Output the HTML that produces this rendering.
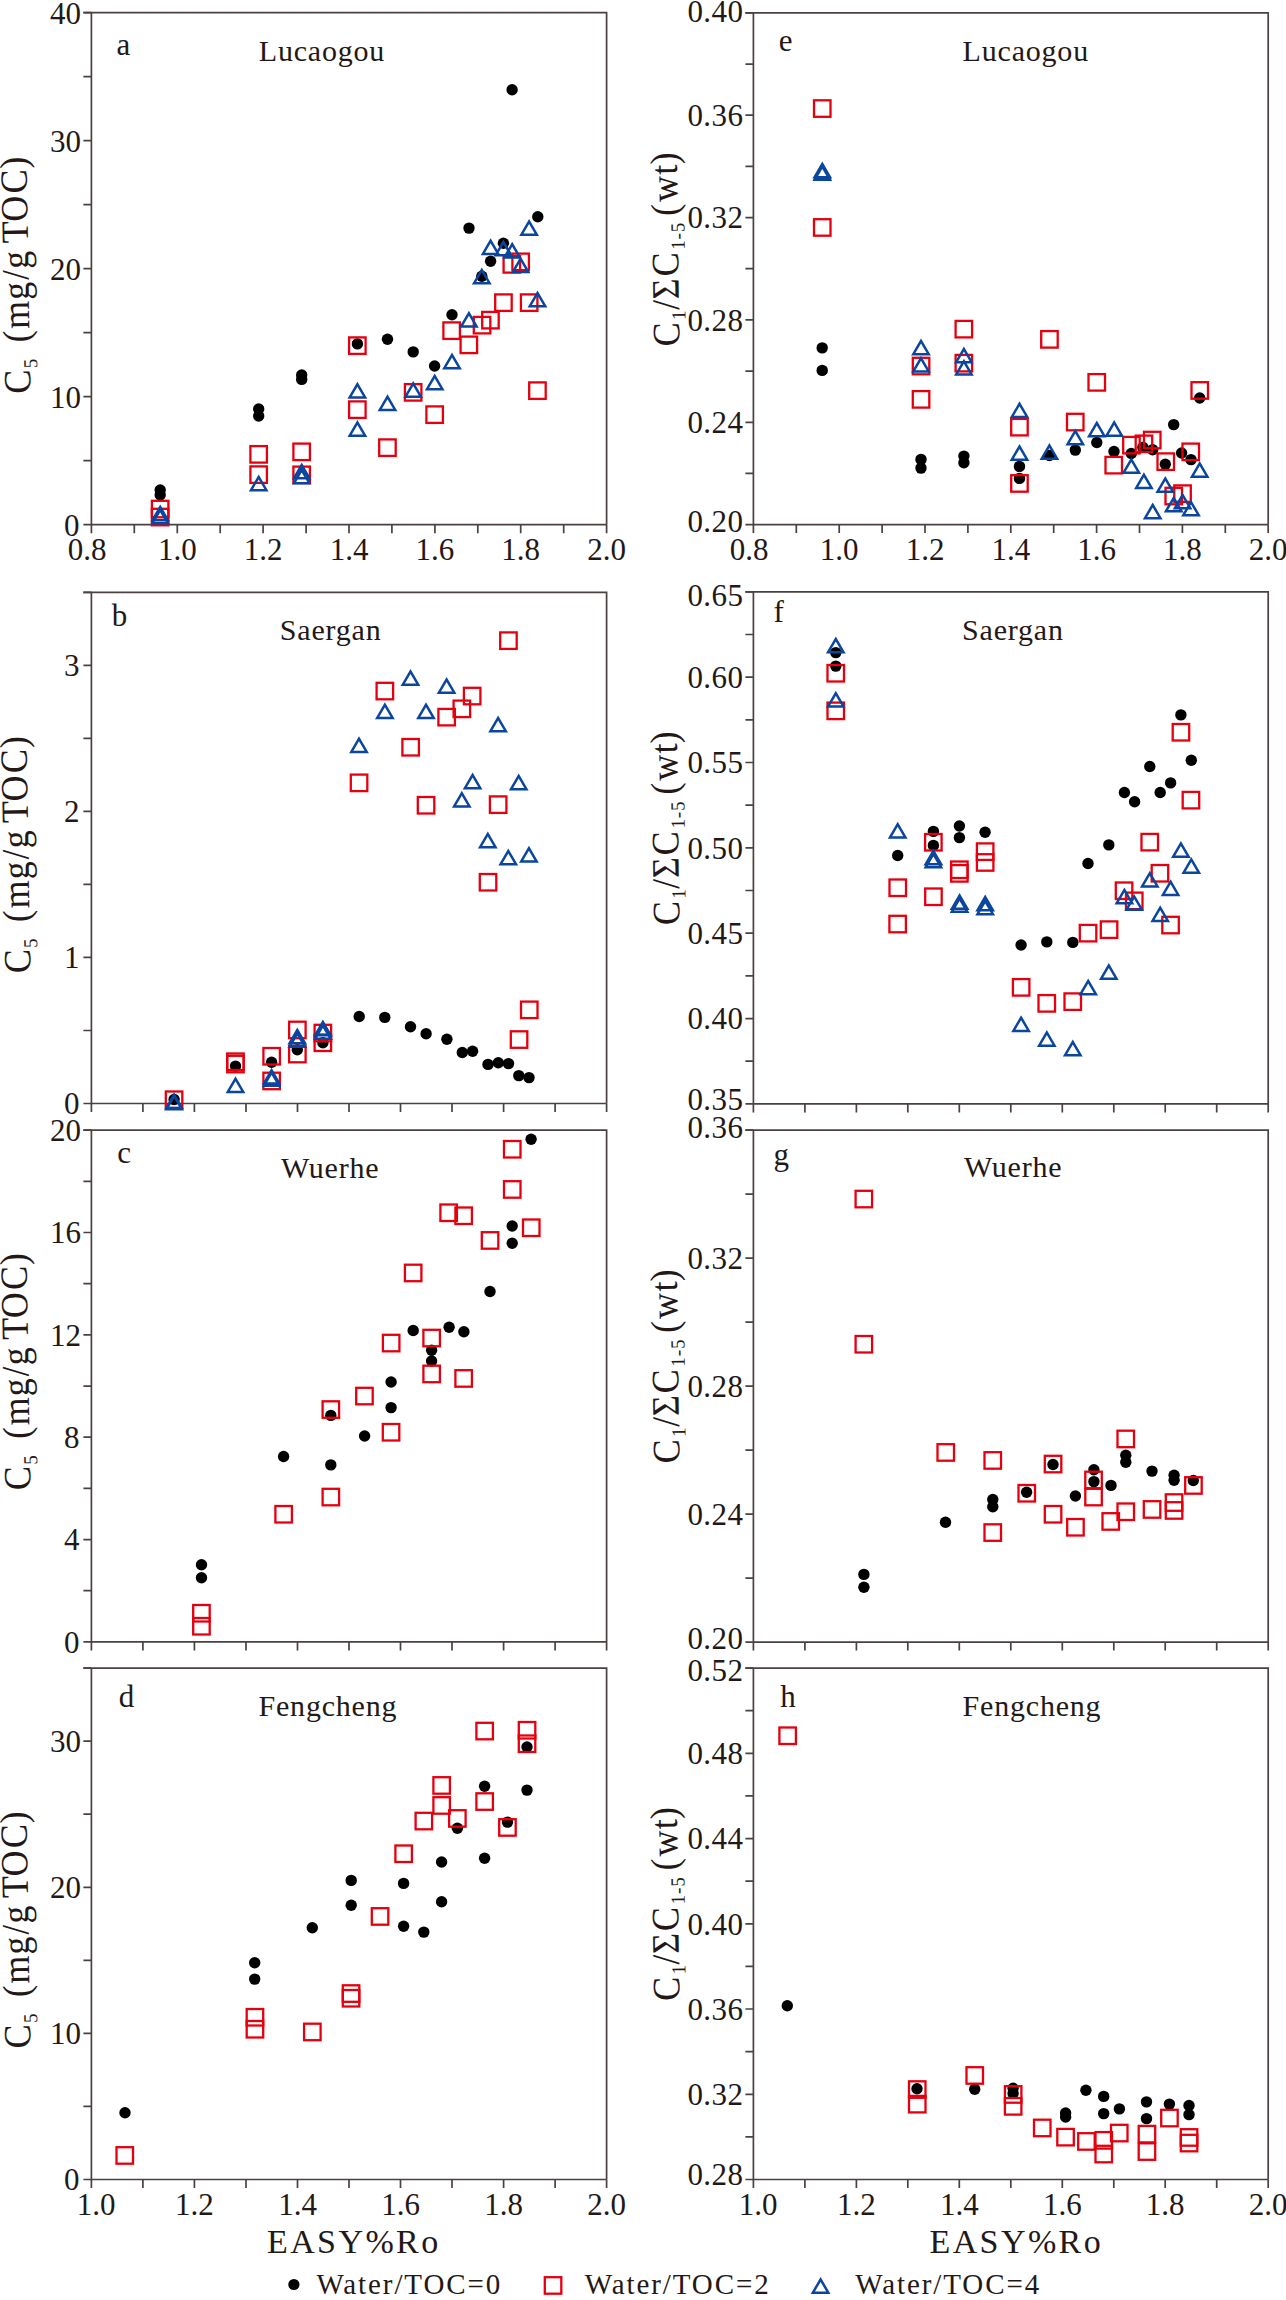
<!DOCTYPE html>
<html><head><meta charset="utf-8"><style>html,body{margin:0;padding:0;background:#fff}svg{display:block}</style></head>
<body><svg width="1286" height="2300" viewBox="0 0 1286 2300" font-family="'Liberation Serif', serif" fill="#231815">
<path d="M83.4 12.6H606.6V524.7M91.4 12.6V524.7H606.6" fill="none" stroke="#4a4240" stroke-width="1.7"/>
<path d="M83.4 524.7H91.4M83.4 460.7H91.4M83.4 396.7H91.4M83.4 332.7H91.4M83.4 268.7H91.4M83.4 204.6H91.4M83.4 140.6H91.4M83.4 76.6H91.4M83.4 12.6H91.4" stroke="#4a4240" stroke-width="1.7"/>
<text x="79.6" y="535.6" text-anchor="end" font-size="31">0</text>
<text x="80.9" y="407.5" text-anchor="end" font-size="31">10</text>
<text x="80.9" y="279.5" text-anchor="end" font-size="31">20</text>
<text x="80.9" y="151.5" text-anchor="end" font-size="31">30</text>
<text x="80.9" y="23.5" text-anchor="end" font-size="31">40</text>
<path d="M91.4 524.7V533.2M134.3 524.7V533.2M177.3 524.7V533.2M220.2 524.7V533.2M263.1 524.7V533.2M306.1 524.7V533.2M349.0 524.7V533.2M391.9 524.7V533.2M434.9 524.7V533.2M477.8 524.7V533.2M520.7 524.7V533.2M563.7 524.7V533.2M606.6 524.7V533.2" stroke="#4a4240" stroke-width="1.7"/>
<text x="87.2" y="559.7" text-anchor="middle" font-size="31">0.8</text>
<text x="177.3" y="559.7" text-anchor="middle" font-size="31">1.0</text>
<text x="263.1" y="559.7" text-anchor="middle" font-size="31">1.2</text>
<text x="349.0" y="559.7" text-anchor="middle" font-size="31">1.4</text>
<text x="434.9" y="559.7" text-anchor="middle" font-size="31">1.6</text>
<text x="520.7" y="559.7" text-anchor="middle" font-size="31">1.8</text>
<text x="606.6" y="559.7" text-anchor="middle" font-size="31">2.0</text>
<path d="M83.4 592.3H606.6V1103.5M91.4 592.3V1103.5H606.6" fill="none" stroke="#4a4240" stroke-width="1.7"/>
<path d="M83.4 1103.5H91.4M83.4 1030.5H91.4M83.4 957.4H91.4M83.4 884.4H91.4M83.4 811.4H91.4M83.4 738.4H91.4M83.4 665.3H91.4M83.4 592.3H91.4" stroke="#4a4240" stroke-width="1.7"/>
<text x="79.6" y="1114.3" text-anchor="end" font-size="31">0</text>
<text x="79.6" y="968.3" text-anchor="end" font-size="31">1</text>
<text x="79.6" y="822.2" text-anchor="end" font-size="31">2</text>
<text x="79.6" y="676.2" text-anchor="end" font-size="31">3</text>
<path d="M91.4 1103.5V1112.0M142.9 1103.5V1112.0M194.4 1103.5V1112.0M246.0 1103.5V1112.0M297.5 1103.5V1112.0M349.0 1103.5V1112.0M400.5 1103.5V1112.0M452.0 1103.5V1112.0M503.6 1103.5V1112.0M555.1 1103.5V1112.0M606.6 1103.5V1112.0" stroke="#4a4240" stroke-width="1.7"/>
<path d="M83.4 1130.2H606.6V1641.9M91.4 1130.2V1641.9H606.6" fill="none" stroke="#4a4240" stroke-width="1.7"/>
<path d="M83.4 1641.9H91.4M83.4 1590.7H91.4M83.4 1539.6H91.4M83.4 1488.4H91.4M83.4 1437.2H91.4M83.4 1386.1H91.4M83.4 1334.9H91.4M83.4 1283.7H91.4M83.4 1232.5H91.4M83.4 1181.4H91.4M83.4 1130.2H91.4" stroke="#4a4240" stroke-width="1.7"/>
<text x="79.6" y="1652.8" text-anchor="end" font-size="31">0</text>
<text x="79.6" y="1550.4" text-anchor="end" font-size="31">4</text>
<text x="79.6" y="1448.1" text-anchor="end" font-size="31">8</text>
<text x="80.9" y="1345.7" text-anchor="end" font-size="31">12</text>
<text x="80.9" y="1243.4" text-anchor="end" font-size="31">16</text>
<text x="80.9" y="1141.0" text-anchor="end" font-size="31">20</text>
<path d="M91.4 1641.9V1650.4M142.9 1641.9V1650.4M194.4 1641.9V1650.4M246.0 1641.9V1650.4M297.5 1641.9V1650.4M349.0 1641.9V1650.4M400.5 1641.9V1650.4M452.0 1641.9V1650.4M503.6 1641.9V1650.4M555.1 1641.9V1650.4M606.6 1641.9V1650.4" stroke="#4a4240" stroke-width="1.7"/>
<path d="M83.4 1668.1H606.6V2179.5M91.4 1668.1V2179.5H606.6" fill="none" stroke="#4a4240" stroke-width="1.7"/>
<path d="M83.4 2179.5H91.4M83.4 2106.4H91.4M83.4 2033.4H91.4M83.4 1960.3H91.4M83.4 1887.3H91.4M83.4 1814.2H91.4M83.4 1741.2H91.4M83.4 1668.1H91.4" stroke="#4a4240" stroke-width="1.7"/>
<text x="79.6" y="2190.3" text-anchor="end" font-size="31">0</text>
<text x="80.9" y="2044.2" text-anchor="end" font-size="31">10</text>
<text x="80.9" y="1898.1" text-anchor="end" font-size="31">20</text>
<text x="80.9" y="1752.0" text-anchor="end" font-size="31">30</text>
<path d="M91.4 2179.5V2188.0M142.9 2179.5V2188.0M194.4 2179.5V2188.0M246.0 2179.5V2188.0M297.5 2179.5V2188.0M349.0 2179.5V2188.0M400.5 2179.5V2188.0M452.0 2179.5V2188.0M503.6 2179.5V2188.0M555.1 2179.5V2188.0M606.6 2179.5V2188.0" stroke="#4a4240" stroke-width="1.7"/>
<text x="96.1" y="2214.5" text-anchor="middle" font-size="31">1.0</text>
<text x="194.4" y="2214.5" text-anchor="middle" font-size="31">1.2</text>
<text x="297.5" y="2214.5" text-anchor="middle" font-size="31">1.4</text>
<text x="400.5" y="2214.5" text-anchor="middle" font-size="31">1.6</text>
<text x="503.6" y="2214.5" text-anchor="middle" font-size="31">1.8</text>
<text x="606.6" y="2214.5" text-anchor="middle" font-size="31">2.0</text>
<path d="M745.4 12.9H1268.2V524.6M753.4 12.9V524.6H1268.2" fill="none" stroke="#4a4240" stroke-width="1.7"/>
<path d="M745.4 524.6H753.4M745.4 473.4H753.4M745.4 422.3H753.4M745.4 371.1H753.4M745.4 319.9H753.4M745.4 268.7H753.4M745.4 217.6H753.4M745.4 166.4H753.4M745.4 115.2H753.4M745.4 64.1H753.4M745.4 12.9H753.4" stroke="#4a4240" stroke-width="1.7"/>
<text x="743.3" y="531.6" text-anchor="end" font-size="31" letter-spacing="0.4">0.20</text>
<text x="743.3" y="433.1" text-anchor="end" font-size="31" letter-spacing="0.4">0.24</text>
<text x="743.3" y="330.8" text-anchor="end" font-size="31" letter-spacing="0.4">0.28</text>
<text x="743.3" y="228.4" text-anchor="end" font-size="31" letter-spacing="0.4">0.32</text>
<text x="743.3" y="126.1" text-anchor="end" font-size="31" letter-spacing="0.4">0.36</text>
<text x="743.3" y="21.5" text-anchor="end" font-size="31" letter-spacing="0.4">0.40</text>
<path d="M753.4 524.6V533.1M796.3 524.6V533.1M839.2 524.6V533.1M882.1 524.6V533.1M925.0 524.6V533.1M967.9 524.6V533.1M1010.8 524.6V533.1M1053.7 524.6V533.1M1096.6 524.6V533.1M1139.5 524.6V533.1M1182.4 524.6V533.1M1225.3 524.6V533.1M1268.2 524.6V533.1" stroke="#4a4240" stroke-width="1.7"/>
<text x="749.2" y="559.6" text-anchor="middle" font-size="31">0.8</text>
<text x="839.2" y="559.6" text-anchor="middle" font-size="31">1.0</text>
<text x="925.0" y="559.6" text-anchor="middle" font-size="31">1.2</text>
<text x="1010.8" y="559.6" text-anchor="middle" font-size="31">1.4</text>
<text x="1096.6" y="559.6" text-anchor="middle" font-size="31">1.6</text>
<text x="1182.4" y="559.6" text-anchor="middle" font-size="31">1.8</text>
<text x="1268.2" y="559.6" text-anchor="middle" font-size="31">2.0</text>
<path d="M745.4 591.8H1268.2V1103.9M753.4 591.8V1103.9H1268.2" fill="none" stroke="#4a4240" stroke-width="1.7"/>
<path d="M745.4 1103.9H753.4M745.4 1061.2H753.4M745.4 1018.6H753.4M745.4 975.9H753.4M745.4 933.2H753.4M745.4 890.5H753.4M745.4 847.9H753.4M745.4 805.2H753.4M745.4 762.5H753.4M745.4 719.8H753.4M745.4 677.2H753.4M745.4 634.5H753.4M745.4 591.8H753.4" stroke="#4a4240" stroke-width="1.7"/>
<text x="743.3" y="1109.5" text-anchor="end" font-size="31" letter-spacing="0.4">0.35</text>
<text x="743.3" y="1029.4" text-anchor="end" font-size="31" letter-spacing="0.4">0.40</text>
<text x="743.3" y="944.1" text-anchor="end" font-size="31" letter-spacing="0.4">0.45</text>
<text x="743.3" y="858.7" text-anchor="end" font-size="31" letter-spacing="0.4">0.50</text>
<text x="743.3" y="773.4" text-anchor="end" font-size="31" letter-spacing="0.4">0.55</text>
<text x="743.3" y="688.0" text-anchor="end" font-size="31" letter-spacing="0.4">0.60</text>
<text x="743.3" y="605.5" text-anchor="end" font-size="31" letter-spacing="0.4">0.65</text>
<path d="M753.4 1103.9V1112.4M804.9 1103.9V1112.4M856.4 1103.9V1112.4M907.8 1103.9V1112.4M959.3 1103.9V1112.4M1010.8 1103.9V1112.4M1062.3 1103.9V1112.4M1113.8 1103.9V1112.4M1165.2 1103.9V1112.4M1216.7 1103.9V1112.4M1268.2 1103.9V1112.4" stroke="#4a4240" stroke-width="1.7"/>
<path d="M745.4 1130.2H1268.2V1642.1M753.4 1130.2V1642.1H1268.2" fill="none" stroke="#4a4240" stroke-width="1.7"/>
<path d="M745.4 1642.1H753.4M745.4 1578.1H753.4M745.4 1514.1H753.4M745.4 1450.1H753.4M745.4 1386.1H753.4M745.4 1322.2H753.4M745.4 1258.2H753.4M745.4 1194.2H753.4M745.4 1130.2H753.4" stroke="#4a4240" stroke-width="1.7"/>
<text x="743.3" y="1649.0" text-anchor="end" font-size="31" letter-spacing="0.4">0.20</text>
<text x="743.3" y="1525.0" text-anchor="end" font-size="31" letter-spacing="0.4">0.24</text>
<text x="743.3" y="1397.0" text-anchor="end" font-size="31" letter-spacing="0.4">0.28</text>
<text x="743.3" y="1269.0" text-anchor="end" font-size="31" letter-spacing="0.4">0.32</text>
<text x="743.3" y="1138.2" text-anchor="end" font-size="31" letter-spacing="0.4">0.36</text>
<path d="M753.4 1642.1V1650.6M804.9 1642.1V1650.6M856.4 1642.1V1650.6M907.8 1642.1V1650.6M959.3 1642.1V1650.6M1010.8 1642.1V1650.6M1062.3 1642.1V1650.6M1113.8 1642.1V1650.6M1165.2 1642.1V1650.6M1216.7 1642.1V1650.6M1268.2 1642.1V1650.6" stroke="#4a4240" stroke-width="1.7"/>
<path d="M745.4 1668.1H1268.2V2179.5M753.4 1668.1V2179.5H1268.2" fill="none" stroke="#4a4240" stroke-width="1.7"/>
<path d="M745.4 2179.5H753.4M745.4 2136.9H753.4M745.4 2094.3H753.4M745.4 2051.7H753.4M745.4 2009.0H753.4M745.4 1966.4H753.4M745.4 1923.8H753.4M745.4 1881.2H753.4M745.4 1838.6H753.4M745.4 1795.9H753.4M745.4 1753.3H753.4M745.4 1710.7H753.4M745.4 1668.1H753.4" stroke="#4a4240" stroke-width="1.7"/>
<text x="743.3" y="2185.2" text-anchor="end" font-size="31" letter-spacing="0.4">0.28</text>
<text x="743.3" y="2105.1" text-anchor="end" font-size="31" letter-spacing="0.4">0.32</text>
<text x="743.3" y="2019.9" text-anchor="end" font-size="31" letter-spacing="0.4">0.36</text>
<text x="743.3" y="1934.6" text-anchor="end" font-size="31" letter-spacing="0.4">0.40</text>
<text x="743.3" y="1849.4" text-anchor="end" font-size="31" letter-spacing="0.4">0.44</text>
<text x="743.3" y="1764.2" text-anchor="end" font-size="31" letter-spacing="0.4">0.48</text>
<text x="743.3" y="1681.3" text-anchor="end" font-size="31" letter-spacing="0.4">0.52</text>
<path d="M753.4 2179.5V2188.0M804.9 2179.5V2188.0M856.4 2179.5V2188.0M907.8 2179.5V2188.0M959.3 2179.5V2188.0M1010.8 2179.5V2188.0M1062.3 2179.5V2188.0M1113.8 2179.5V2188.0M1165.2 2179.5V2188.0M1216.7 2179.5V2188.0M1268.2 2179.5V2188.0" stroke="#4a4240" stroke-width="1.7"/>
<text x="758.1" y="2214.5" text-anchor="middle" font-size="31">1.0</text>
<text x="856.4" y="2214.5" text-anchor="middle" font-size="31">1.2</text>
<text x="959.3" y="2214.5" text-anchor="middle" font-size="31">1.4</text>
<text x="1062.3" y="2214.5" text-anchor="middle" font-size="31">1.6</text>
<text x="1165.2" y="2214.5" text-anchor="middle" font-size="31">1.8</text>
<text x="1268.2" y="2214.5" text-anchor="middle" font-size="31">2.0</text>
<text x="116.5" y="54.5" font-size="31">a</text>
<text x="111.8" y="625.7" font-size="31">b</text>
<text x="117.2" y="1162.9" font-size="31">c</text>
<text x="118.8" y="1706.5" font-size="31">d</text>
<text x="778.8" y="50.9" font-size="31">e</text>
<text x="773.5" y="621.7" font-size="31">f</text>
<text x="773.5" y="1164.5" font-size="31">g</text>
<text x="780.2" y="1707.3" font-size="31">h</text>
<text x="258.8" y="60.8" font-size="30" letter-spacing="0.8">Lucaogou</text>
<text x="279.8" y="639.7" font-size="30" letter-spacing="0.8">Saergan</text>
<text x="280.9" y="1177.8" font-size="30" letter-spacing="0.8">Wuerhe</text>
<text x="258.5" y="1715.5" font-size="30" letter-spacing="0.8">Fengcheng</text>
<text x="962.6" y="61.0" font-size="30" letter-spacing="0.8">Lucaogou</text>
<text x="962.1" y="640.2" font-size="30" letter-spacing="0.8">Saergan</text>
<text x="963.9" y="1177.0" font-size="30" letter-spacing="0.8">Wuerhe</text>
<text x="962.6" y="1715.5" font-size="30" letter-spacing="0.8">Fengcheng</text>
<text transform="translate(30.5,393.44) rotate(-91) scale(1,1.07)"><tspan x="0" y="0" font-size="36">C</tspan><tspan x="25.2" y="6.8" font-size="18.5">5</tspan><tspan x="51.1" y="0" font-size="36">(</tspan><tspan x="64.7" y="0" font-size="36">m</tspan><tspan x="93.7" y="0" font-size="36">g</tspan><tspan x="113.7" y="0" font-size="36">/</tspan><tspan x="124.7" y="0" font-size="36">g</tspan><tspan x="150.4" y="0" font-size="36">T</tspan><tspan x="171.9" y="0" font-size="36">O</tspan><tspan x="200.2" y="0" font-size="36">C</tspan><tspan x="225.0" y="0" font-size="36">)</tspan></text>
<text transform="translate(30.5,973.04) rotate(-91) scale(1,1.07)"><tspan x="0" y="0" font-size="36">C</tspan><tspan x="25.2" y="6.8" font-size="18.5">5</tspan><tspan x="51.1" y="0" font-size="36">(</tspan><tspan x="64.7" y="0" font-size="36">m</tspan><tspan x="93.7" y="0" font-size="36">g</tspan><tspan x="113.7" y="0" font-size="36">/</tspan><tspan x="124.7" y="0" font-size="36">g</tspan><tspan x="150.4" y="0" font-size="36">T</tspan><tspan x="171.9" y="0" font-size="36">O</tspan><tspan x="200.2" y="0" font-size="36">C</tspan><tspan x="225.0" y="0" font-size="36">)</tspan></text>
<text transform="translate(30.5,1489.94) rotate(-91) scale(1,1.07)"><tspan x="0" y="0" font-size="36">C</tspan><tspan x="25.2" y="6.8" font-size="18.5">5</tspan><tspan x="51.1" y="0" font-size="36">(</tspan><tspan x="64.7" y="0" font-size="36">m</tspan><tspan x="93.7" y="0" font-size="36">g</tspan><tspan x="113.7" y="0" font-size="36">/</tspan><tspan x="124.7" y="0" font-size="36">g</tspan><tspan x="150.4" y="0" font-size="36">T</tspan><tspan x="171.9" y="0" font-size="36">O</tspan><tspan x="200.2" y="0" font-size="36">C</tspan><tspan x="225.0" y="0" font-size="36">)</tspan></text>
<text transform="translate(30.5,2048.14) rotate(-91) scale(1,1.07)"><tspan x="0" y="0" font-size="36">C</tspan><tspan x="25.2" y="6.8" font-size="18.5">5</tspan><tspan x="51.1" y="0" font-size="36">(</tspan><tspan x="64.7" y="0" font-size="36">m</tspan><tspan x="93.7" y="0" font-size="36">g</tspan><tspan x="113.7" y="0" font-size="36">/</tspan><tspan x="124.7" y="0" font-size="36">g</tspan><tspan x="150.4" y="0" font-size="36">T</tspan><tspan x="171.9" y="0" font-size="36">O</tspan><tspan x="200.2" y="0" font-size="36">C</tspan><tspan x="225.0" y="0" font-size="36">)</tspan></text>
<text transform="translate(679.5,346.24) rotate(-90.8) scale(1,1.08)"><tspan x="0" y="0" font-size="36">C</tspan><tspan x="26.4" y="6.0" font-size="18.5">1</tspan><tspan x="36.4" y="0" font-size="36">/</tspan><tspan x="47.1" y="0" font-size="36">Σ</tspan><tspan x="69.9" y="0" font-size="36">C</tspan><tspan x="96.6" y="6.0" font-size="18.5" letter-spacing="1.1">1-5</tspan><tspan x="130.5" y="0" font-size="36">(</tspan><tspan x="144.5" y="0" font-size="36">w</tspan><tspan x="171.8" y="0" font-size="36">t</tspan><tspan x="181.9" y="0" font-size="36">)</tspan></text>
<text transform="translate(679.5,925.04) rotate(-90.8) scale(1,1.08)"><tspan x="0" y="0" font-size="36">C</tspan><tspan x="26.4" y="6.0" font-size="18.5">1</tspan><tspan x="36.4" y="0" font-size="36">/</tspan><tspan x="47.1" y="0" font-size="36">Σ</tspan><tspan x="69.9" y="0" font-size="36">C</tspan><tspan x="96.6" y="6.0" font-size="18.5" letter-spacing="1.1">1-5</tspan><tspan x="130.5" y="0" font-size="36">(</tspan><tspan x="144.5" y="0" font-size="36">w</tspan><tspan x="171.8" y="0" font-size="36">t</tspan><tspan x="181.9" y="0" font-size="36">)</tspan></text>
<text transform="translate(679.5,1463.14) rotate(-90.8) scale(1,1.08)"><tspan x="0" y="0" font-size="36">C</tspan><tspan x="26.4" y="6.0" font-size="18.5">1</tspan><tspan x="36.4" y="0" font-size="36">/</tspan><tspan x="47.1" y="0" font-size="36">Σ</tspan><tspan x="69.9" y="0" font-size="36">C</tspan><tspan x="96.6" y="6.0" font-size="18.5" letter-spacing="1.1">1-5</tspan><tspan x="130.5" y="0" font-size="36">(</tspan><tspan x="144.5" y="0" font-size="36">w</tspan><tspan x="171.8" y="0" font-size="36">t</tspan><tspan x="181.9" y="0" font-size="36">)</tspan></text>
<text transform="translate(679.5,2000.84) rotate(-90.8) scale(1,1.08)"><tspan x="0" y="0" font-size="36">C</tspan><tspan x="26.4" y="6.0" font-size="18.5">1</tspan><tspan x="36.4" y="0" font-size="36">/</tspan><tspan x="47.1" y="0" font-size="36">Σ</tspan><tspan x="69.9" y="0" font-size="36">C</tspan><tspan x="96.6" y="6.0" font-size="18.5" letter-spacing="1.1">1-5</tspan><tspan x="130.5" y="0" font-size="36">(</tspan><tspan x="144.5" y="0" font-size="36">w</tspan><tspan x="171.8" y="0" font-size="36">t</tspan><tspan x="181.9" y="0" font-size="36">)</tspan></text>
<text x="267" y="2252.6" font-size="34" letter-spacing="2.4">EASY%Ro</text>
<text x="929.5" y="2252.6" font-size="34" letter-spacing="2.4">EASY%Ro</text>
<circle cx="293.9" cy="2284.5" r="5.6" fill="#000"/>
<text x="316.4" y="2294.3" font-size="29" letter-spacing="1.9">Water/TOC=0</text>
<rect x="544.8" y="2277.2" width="16.5" height="16.5" fill="none" stroke="#e5000f" stroke-width="2.3"/>
<text x="584.8" y="2294.3" font-size="29" letter-spacing="1.9">Water/TOC=2</text>
<path d="M820.6 2276.9L830.5 2293.9L810.7 2293.9ZM815.0 2291.4L826.2 2291.4L820.6 2281.9Z" fill="#0a45a0"/>
<text x="855.3" y="2294.3" font-size="29" letter-spacing="1.9">Water/TOC=4</text>
<circle cx="160.2" cy="490" r="5.7" fill="#000"/>
<circle cx="160.2" cy="495" r="5.7" fill="#000"/>
<circle cx="258.7" cy="409" r="5.7" fill="#000"/>
<circle cx="258.7" cy="416" r="5.7" fill="#000"/>
<circle cx="301.7" cy="375" r="5.7" fill="#000"/>
<circle cx="301.7" cy="379.4" r="5.7" fill="#000"/>
<circle cx="357.4" cy="343.9" r="5.7" fill="#000"/>
<circle cx="387.5" cy="339.2" r="5.7" fill="#000"/>
<circle cx="413.2" cy="351.9" r="5.7" fill="#000"/>
<circle cx="434.6" cy="366" r="5.7" fill="#000"/>
<circle cx="452" cy="314.8" r="5.7" fill="#000"/>
<circle cx="469" cy="228.1" r="5.7" fill="#000"/>
<circle cx="481.8" cy="276.3" r="5.7" fill="#000"/>
<circle cx="490.6" cy="261.3" r="5.7" fill="#000"/>
<circle cx="503.4" cy="243.2" r="5.7" fill="#000"/>
<circle cx="512.1" cy="89.8" r="5.7" fill="#000"/>
<circle cx="537.8" cy="216.7" r="5.7" fill="#000"/>
<rect x="151.9" y="500.8" width="16.5" height="16.5" fill="none" stroke="#e5000f" stroke-width="2.3"/>
<rect x="151.9" y="508.8" width="16.5" height="16.5" fill="none" stroke="#e5000f" stroke-width="2.3"/>
<rect x="250.4" y="446.1" width="16.5" height="16.5" fill="none" stroke="#e5000f" stroke-width="2.3"/>
<rect x="250.4" y="466.4" width="16.5" height="16.5" fill="none" stroke="#e5000f" stroke-width="2.3"/>
<rect x="293.4" y="443.6" width="16.5" height="16.5" fill="none" stroke="#e5000f" stroke-width="2.3"/>
<rect x="293.4" y="466.6" width="16.5" height="16.5" fill="none" stroke="#e5000f" stroke-width="2.3"/>
<rect x="349.1" y="337.4" width="16.5" height="16.5" fill="none" stroke="#e5000f" stroke-width="2.3"/>
<rect x="349.1" y="401.4" width="16.5" height="16.5" fill="none" stroke="#e5000f" stroke-width="2.3"/>
<rect x="379.2" y="439.4" width="16.5" height="16.5" fill="none" stroke="#e5000f" stroke-width="2.3"/>
<rect x="404.9" y="384.1" width="16.5" height="16.5" fill="none" stroke="#e5000f" stroke-width="2.3"/>
<rect x="426.4" y="406.4" width="16.5" height="16.5" fill="none" stroke="#e5000f" stroke-width="2.3"/>
<rect x="443.4" y="322.4" width="16.5" height="16.5" fill="none" stroke="#e5000f" stroke-width="2.3"/>
<rect x="460.6" y="336.6" width="16.5" height="16.5" fill="none" stroke="#e5000f" stroke-width="2.3"/>
<rect x="473.8" y="316.9" width="16.5" height="16.5" fill="none" stroke="#e5000f" stroke-width="2.3"/>
<rect x="482.2" y="311.9" width="16.5" height="16.5" fill="none" stroke="#e5000f" stroke-width="2.3"/>
<rect x="495.2" y="294.4" width="16.5" height="16.5" fill="none" stroke="#e5000f" stroke-width="2.3"/>
<rect x="503.6" y="256.1" width="16.5" height="16.5" fill="none" stroke="#e5000f" stroke-width="2.3"/>
<rect x="512.4" y="253.6" width="16.5" height="16.5" fill="none" stroke="#e5000f" stroke-width="2.3"/>
<rect x="520.9" y="294.4" width="16.5" height="16.5" fill="none" stroke="#e5000f" stroke-width="2.3"/>
<rect x="529.2" y="382.4" width="16.5" height="16.5" fill="none" stroke="#e5000f" stroke-width="2.3"/>
<path d="M160.2 504.5L170.1 521.5L150.3 521.5ZM154.6 519.0L165.8 519.0L160.2 509.5ZM160.2 507.5L170.1 524.5L150.3 524.5ZM154.6 522.0L165.8 522.0L160.2 512.5ZM258.7 474.4L268.6 491.4L248.8 491.4ZM253.1 488.9L264.3 488.9L258.7 479.4ZM301.7 462.5L311.6 479.5L291.8 479.5ZM296.1 477.0L307.3 477.0L301.7 467.5ZM301.7 467.5L311.6 484.5L291.8 484.5ZM296.1 482.0L307.3 482.0L301.7 472.5ZM357.4 381.8L367.3 398.8L347.5 398.8ZM351.8 396.3L363.0 396.3L357.4 386.8ZM357.4 419.9L367.3 436.9L347.5 436.9ZM351.8 434.4L363.0 434.4L357.4 424.9ZM387.5 394.3L397.4 411.3L377.6 411.3ZM381.9 408.8L393.1 408.8L387.5 399.3ZM413.2 381.1L423.1 398.1L403.3 398.1ZM407.6 395.6L418.8 395.6L413.2 386.1ZM434.7 373.6L444.6 390.6L424.8 390.6ZM429.1 388.1L440.3 388.1L434.7 378.6ZM452.0 352.5L461.9 369.5L442.1 369.5ZM446.4 367.0L457.6 367.0L452.0 357.5ZM468.9 310.8L478.8 327.8L459.0 327.8ZM463.3 325.3L474.5 325.3L468.9 315.8ZM481.8 267.4L491.7 284.4L471.9 284.4ZM476.2 281.9L487.4 281.9L481.8 272.4ZM490.6 238.2L500.5 255.2L480.7 255.2ZM485.0 252.7L496.2 252.7L490.6 243.2ZM503.4 239.4L513.3 256.4L493.5 256.4ZM497.8 253.9L509.0 253.9L503.4 244.4ZM512.2 241.7L522.1 258.7L502.3 258.7ZM506.6 256.2L517.8 256.2L512.2 246.7ZM520.6 256.3L530.5 273.3L510.7 273.3ZM515.0 270.8L526.2 270.8L520.6 261.3ZM529.1 219.0L539.0 236.0L519.2 236.0ZM523.5 233.5L534.7 233.5L529.1 224.0ZM537.5 290.6L547.4 307.6L527.6 307.6ZM531.9 305.1L543.1 305.1L537.5 295.6Z" fill="#0a45a0" fill-rule="nonzero"/>
<circle cx="174.1" cy="1099.5" r="5.7" fill="#000"/>
<circle cx="235.5" cy="1066.1" r="5.7" fill="#000"/>
<circle cx="271.6" cy="1062.2" r="5.7" fill="#000"/>
<circle cx="297.3" cy="1049.8" r="5.7" fill="#000"/>
<circle cx="322.9" cy="1042.8" r="5.7" fill="#000"/>
<circle cx="359.2" cy="1016.5" r="5.7" fill="#000"/>
<circle cx="384.8" cy="1017.4" r="5.7" fill="#000"/>
<circle cx="410.5" cy="1026.8" r="5.7" fill="#000"/>
<circle cx="426.1" cy="1033.7" r="5.7" fill="#000"/>
<circle cx="446.9" cy="1039.3" r="5.7" fill="#000"/>
<circle cx="462.3" cy="1052.5" r="5.7" fill="#000"/>
<circle cx="472.6" cy="1051.3" r="5.7" fill="#000"/>
<circle cx="488" cy="1064.4" r="5.7" fill="#000"/>
<circle cx="498.3" cy="1062.7" r="5.7" fill="#000"/>
<circle cx="508.5" cy="1063.6" r="5.7" fill="#000"/>
<circle cx="518.8" cy="1075.6" r="5.7" fill="#000"/>
<circle cx="529" cy="1077.6" r="5.7" fill="#000"/>
<rect x="165.8" y="1091.5" width="16.5" height="16.5" fill="none" stroke="#e5000f" stroke-width="2.3"/>
<rect x="227.2" y="1053.5" width="16.5" height="16.5" fill="none" stroke="#e5000f" stroke-width="2.3"/>
<rect x="227.2" y="1055.8" width="16.5" height="16.5" fill="none" stroke="#e5000f" stroke-width="2.3"/>
<rect x="263.4" y="1048.0" width="16.5" height="16.5" fill="none" stroke="#e5000f" stroke-width="2.3"/>
<rect x="263.4" y="1072.7" width="16.5" height="16.5" fill="none" stroke="#e5000f" stroke-width="2.3"/>
<rect x="289.1" y="1021.7" width="16.5" height="16.5" fill="none" stroke="#e5000f" stroke-width="2.3"/>
<rect x="289.1" y="1045.8" width="16.5" height="16.5" fill="none" stroke="#e5000f" stroke-width="2.3"/>
<rect x="314.6" y="1024.8" width="16.5" height="16.5" fill="none" stroke="#e5000f" stroke-width="2.3"/>
<rect x="314.6" y="1034.5" width="16.5" height="16.5" fill="none" stroke="#e5000f" stroke-width="2.3"/>
<rect x="350.8" y="774.6" width="16.5" height="16.5" fill="none" stroke="#e5000f" stroke-width="2.3"/>
<rect x="376.6" y="682.8" width="16.5" height="16.5" fill="none" stroke="#e5000f" stroke-width="2.3"/>
<rect x="402.4" y="739.0" width="16.5" height="16.5" fill="none" stroke="#e5000f" stroke-width="2.3"/>
<rect x="417.8" y="797.0" width="16.5" height="16.5" fill="none" stroke="#e5000f" stroke-width="2.3"/>
<rect x="438.4" y="708.9" width="16.5" height="16.5" fill="none" stroke="#e5000f" stroke-width="2.3"/>
<rect x="453.6" y="700.6" width="16.5" height="16.5" fill="none" stroke="#e5000f" stroke-width="2.3"/>
<rect x="463.9" y="687.8" width="16.5" height="16.5" fill="none" stroke="#e5000f" stroke-width="2.3"/>
<rect x="479.8" y="874.0" width="16.5" height="16.5" fill="none" stroke="#e5000f" stroke-width="2.3"/>
<rect x="489.9" y="796.4" width="16.5" height="16.5" fill="none" stroke="#e5000f" stroke-width="2.3"/>
<rect x="500.2" y="632.4" width="16.5" height="16.5" fill="none" stroke="#e5000f" stroke-width="2.3"/>
<rect x="510.8" y="1031.3" width="16.5" height="16.5" fill="none" stroke="#e5000f" stroke-width="2.3"/>
<rect x="521.0" y="1001.6" width="16.5" height="16.5" fill="none" stroke="#e5000f" stroke-width="2.3"/>
<path d="M174.1 1092.2L184.0 1109.2L164.2 1109.2ZM168.5 1106.7L179.7 1106.7L174.1 1097.2ZM174.1 1093.5L184.0 1110.5L164.2 1110.5ZM168.5 1108.0L179.7 1108.0L174.1 1098.5ZM235.5 1076.3L245.4 1093.3L225.6 1093.3ZM229.9 1090.8L241.1 1090.8L235.5 1081.3ZM271.6 1067.7L281.5 1084.7L261.7 1084.7ZM266.0 1082.2L277.2 1082.2L271.6 1072.7ZM271.6 1070.0L281.5 1087.0L261.7 1087.0ZM266.0 1084.5L277.2 1084.5L271.6 1075.0ZM297.3 1027.6L307.2 1044.6L287.4 1044.6ZM291.7 1042.1L302.9 1042.1L297.3 1032.6ZM297.3 1031.0L307.2 1048.0L287.4 1048.0ZM291.7 1045.5L302.9 1045.5L297.3 1036.0ZM322.9 1019.5L332.8 1036.5L313.0 1036.5ZM317.3 1034.0L328.5 1034.0L322.9 1024.5ZM322.9 1023.0L332.8 1040.0L313.0 1040.0ZM317.3 1037.5L328.5 1037.5L322.9 1028.0ZM359.0 736.3L368.9 753.3L349.1 753.3ZM353.4 750.8L364.6 750.8L359.0 741.3ZM384.9 702.2L394.8 719.2L375.0 719.2ZM379.3 716.7L390.5 716.7L384.9 707.2ZM410.5 668.9L420.4 685.9L400.6 685.9ZM404.9 683.4L416.1 683.4L410.5 673.9ZM426.0 702.2L435.9 719.2L416.1 719.2ZM420.4 716.7L431.6 716.7L426.0 707.2ZM446.6 677.1L456.5 694.1L436.7 694.1ZM441.0 691.6L452.2 691.6L446.6 682.1ZM461.8 790.7L471.7 807.7L451.9 807.7ZM456.2 805.2L467.4 805.2L461.8 795.7ZM472.6 772.5L482.5 789.5L462.7 789.5ZM467.0 787.0L478.2 787.0L472.6 777.5ZM487.8 831.5L497.7 848.5L477.9 848.5ZM482.2 846.0L493.4 846.0L487.8 836.5ZM498.1 715.6L508.0 732.6L488.2 732.6ZM492.5 730.1L503.7 730.1L498.1 720.6ZM508.3 848.5L518.2 865.5L498.4 865.5ZM502.7 863.0L513.9 863.0L508.3 853.5ZM518.7 773.5L528.6 790.5L508.8 790.5ZM513.1 788.0L524.3 788.0L518.7 778.5ZM528.9 845.8L538.8 862.8L519.0 862.8ZM523.3 860.3L534.5 860.3L528.9 850.8Z" fill="#0a45a0" fill-rule="nonzero"/>
<circle cx="201.5" cy="1564.7" r="5.7" fill="#000"/>
<circle cx="201.5" cy="1577.8" r="5.7" fill="#000"/>
<circle cx="283.6" cy="1456.5" r="5.7" fill="#000"/>
<circle cx="330.8" cy="1415.4" r="5.7" fill="#000"/>
<circle cx="330.8" cy="1464.9" r="5.7" fill="#000"/>
<circle cx="364.6" cy="1436" r="5.7" fill="#000"/>
<circle cx="391.1" cy="1382" r="5.7" fill="#000"/>
<circle cx="391.1" cy="1407.6" r="5.7" fill="#000"/>
<circle cx="413.2" cy="1330.5" r="5.7" fill="#000"/>
<circle cx="431.6" cy="1350.3" r="5.7" fill="#000"/>
<circle cx="431.6" cy="1361" r="5.7" fill="#000"/>
<circle cx="449.1" cy="1327.3" r="5.7" fill="#000"/>
<circle cx="463.9" cy="1331.7" r="5.7" fill="#000"/>
<circle cx="490" cy="1291.5" r="5.7" fill="#000"/>
<circle cx="512.2" cy="1226" r="5.7" fill="#000"/>
<circle cx="512.2" cy="1243.3" r="5.7" fill="#000"/>
<circle cx="531.1" cy="1139.2" r="5.7" fill="#000"/>
<rect x="193.2" y="1605.0" width="16.5" height="16.5" fill="none" stroke="#e5000f" stroke-width="2.3"/>
<rect x="193.2" y="1618.0" width="16.5" height="16.5" fill="none" stroke="#e5000f" stroke-width="2.3"/>
<rect x="275.4" y="1506.0" width="16.5" height="16.5" fill="none" stroke="#e5000f" stroke-width="2.3"/>
<rect x="322.6" y="1401.3" width="16.5" height="16.5" fill="none" stroke="#e5000f" stroke-width="2.3"/>
<rect x="322.6" y="1488.8" width="16.5" height="16.5" fill="none" stroke="#e5000f" stroke-width="2.3"/>
<rect x="356.2" y="1387.8" width="16.5" height="16.5" fill="none" stroke="#e5000f" stroke-width="2.3"/>
<rect x="382.9" y="1334.8" width="16.5" height="16.5" fill="none" stroke="#e5000f" stroke-width="2.3"/>
<rect x="382.8" y="1424.0" width="16.5" height="16.5" fill="none" stroke="#e5000f" stroke-width="2.3"/>
<rect x="404.9" y="1264.7" width="16.5" height="16.5" fill="none" stroke="#e5000f" stroke-width="2.3"/>
<rect x="423.4" y="1329.8" width="16.5" height="16.5" fill="none" stroke="#e5000f" stroke-width="2.3"/>
<rect x="423.4" y="1365.7" width="16.5" height="16.5" fill="none" stroke="#e5000f" stroke-width="2.3"/>
<rect x="440.4" y="1204.5" width="16.5" height="16.5" fill="none" stroke="#e5000f" stroke-width="2.3"/>
<rect x="455.4" y="1207.5" width="16.5" height="16.5" fill="none" stroke="#e5000f" stroke-width="2.3"/>
<rect x="455.4" y="1370.2" width="16.5" height="16.5" fill="none" stroke="#e5000f" stroke-width="2.3"/>
<rect x="481.8" y="1232.2" width="16.5" height="16.5" fill="none" stroke="#e5000f" stroke-width="2.3"/>
<rect x="504.0" y="1141.0" width="16.5" height="16.5" fill="none" stroke="#e5000f" stroke-width="2.3"/>
<rect x="504.0" y="1181.2" width="16.5" height="16.5" fill="none" stroke="#e5000f" stroke-width="2.3"/>
<rect x="523.0" y="1219.5" width="16.5" height="16.5" fill="none" stroke="#e5000f" stroke-width="2.3"/>
<circle cx="125" cy="2112.8" r="5.7" fill="#000"/>
<circle cx="254.7" cy="1962.8" r="5.7" fill="#000"/>
<circle cx="254.7" cy="1979.1" r="5.7" fill="#000"/>
<circle cx="312.3" cy="1927.8" r="5.7" fill="#000"/>
<circle cx="351.2" cy="1880.4" r="5.7" fill="#000"/>
<circle cx="351.2" cy="1905.2" r="5.7" fill="#000"/>
<circle cx="403.6" cy="1883.4" r="5.7" fill="#000"/>
<circle cx="403.6" cy="1926.2" r="5.7" fill="#000"/>
<circle cx="423.8" cy="1932.1" r="5.7" fill="#000"/>
<circle cx="441.6" cy="1862" r="5.7" fill="#000"/>
<circle cx="441.6" cy="1901.7" r="5.7" fill="#000"/>
<circle cx="457.4" cy="1828.3" r="5.7" fill="#000"/>
<circle cx="484.6" cy="1786.2" r="5.7" fill="#000"/>
<circle cx="484.6" cy="1858.2" r="5.7" fill="#000"/>
<circle cx="507.5" cy="1822.1" r="5.7" fill="#000"/>
<circle cx="527" cy="1747" r="5.7" fill="#000"/>
<circle cx="527" cy="1790.1" r="5.7" fill="#000"/>
<rect x="116.5" y="2147.2" width="16.5" height="16.5" fill="none" stroke="#e5000f" stroke-width="2.3"/>
<rect x="246.7" y="2009.0" width="16.5" height="16.5" fill="none" stroke="#e5000f" stroke-width="2.3"/>
<rect x="246.7" y="2021.0" width="16.5" height="16.5" fill="none" stroke="#e5000f" stroke-width="2.3"/>
<rect x="304.1" y="2023.7" width="16.5" height="16.5" fill="none" stroke="#e5000f" stroke-width="2.3"/>
<rect x="342.8" y="1985.3" width="16.5" height="16.5" fill="none" stroke="#e5000f" stroke-width="2.3"/>
<rect x="342.8" y="1990.0" width="16.5" height="16.5" fill="none" stroke="#e5000f" stroke-width="2.3"/>
<rect x="371.8" y="1908.2" width="16.5" height="16.5" fill="none" stroke="#e5000f" stroke-width="2.3"/>
<rect x="395.4" y="1845.5" width="16.5" height="16.5" fill="none" stroke="#e5000f" stroke-width="2.3"/>
<rect x="415.6" y="1812.8" width="16.5" height="16.5" fill="none" stroke="#e5000f" stroke-width="2.3"/>
<rect x="433.4" y="1777.2" width="16.5" height="16.5" fill="none" stroke="#e5000f" stroke-width="2.3"/>
<rect x="433.4" y="1797.2" width="16.5" height="16.5" fill="none" stroke="#e5000f" stroke-width="2.3"/>
<rect x="449.1" y="1810.2" width="16.5" height="16.5" fill="none" stroke="#e5000f" stroke-width="2.3"/>
<rect x="476.4" y="1722.8" width="16.5" height="16.5" fill="none" stroke="#e5000f" stroke-width="2.3"/>
<rect x="476.4" y="1793.3" width="16.5" height="16.5" fill="none" stroke="#e5000f" stroke-width="2.3"/>
<rect x="499.2" y="1819.2" width="16.5" height="16.5" fill="none" stroke="#e5000f" stroke-width="2.3"/>
<rect x="518.8" y="1722.0" width="16.5" height="16.5" fill="none" stroke="#e5000f" stroke-width="2.3"/>
<rect x="518.8" y="1735.5" width="16.5" height="16.5" fill="none" stroke="#e5000f" stroke-width="2.3"/>
<circle cx="822.2" cy="347.9" r="5.7" fill="#000"/>
<circle cx="822.2" cy="370.4" r="5.7" fill="#000"/>
<circle cx="921" cy="459.4" r="5.7" fill="#000"/>
<circle cx="921" cy="468.1" r="5.7" fill="#000"/>
<circle cx="963.9" cy="456.1" r="5.7" fill="#000"/>
<circle cx="963.9" cy="462.7" r="5.7" fill="#000"/>
<circle cx="1019.5" cy="466.4" r="5.7" fill="#000"/>
<circle cx="1019.5" cy="478.4" r="5.7" fill="#000"/>
<circle cx="1049.4" cy="455.5" r="5.7" fill="#000"/>
<circle cx="1075.3" cy="450.1" r="5.7" fill="#000"/>
<circle cx="1096.8" cy="442.5" r="5.7" fill="#000"/>
<circle cx="1114" cy="451.5" r="5.7" fill="#000"/>
<circle cx="1131.3" cy="453.5" r="5.7" fill="#000"/>
<circle cx="1142.9" cy="447.4" r="5.7" fill="#000"/>
<circle cx="1152.7" cy="449.8" r="5.7" fill="#000"/>
<circle cx="1165.3" cy="464.2" r="5.7" fill="#000"/>
<circle cx="1173.7" cy="424.6" r="5.7" fill="#000"/>
<circle cx="1181.6" cy="453" r="5.7" fill="#000"/>
<circle cx="1191" cy="459.6" r="5.7" fill="#000"/>
<circle cx="1199.7" cy="398" r="5.7" fill="#000"/>
<rect x="814.0" y="100.3" width="16.5" height="16.5" fill="none" stroke="#e5000f" stroke-width="2.3"/>
<rect x="814.0" y="219.2" width="16.5" height="16.5" fill="none" stroke="#e5000f" stroke-width="2.3"/>
<rect x="912.8" y="357.8" width="16.5" height="16.5" fill="none" stroke="#e5000f" stroke-width="2.3"/>
<rect x="912.8" y="391.1" width="16.5" height="16.5" fill="none" stroke="#e5000f" stroke-width="2.3"/>
<rect x="955.6" y="320.9" width="16.5" height="16.5" fill="none" stroke="#e5000f" stroke-width="2.3"/>
<rect x="955.6" y="354.9" width="16.5" height="16.5" fill="none" stroke="#e5000f" stroke-width="2.3"/>
<rect x="1011.2" y="418.9" width="16.5" height="16.5" fill="none" stroke="#e5000f" stroke-width="2.3"/>
<rect x="1011.2" y="475.2" width="16.5" height="16.5" fill="none" stroke="#e5000f" stroke-width="2.3"/>
<rect x="1041.2" y="331.1" width="16.5" height="16.5" fill="none" stroke="#e5000f" stroke-width="2.3"/>
<rect x="1067.0" y="413.8" width="16.5" height="16.5" fill="none" stroke="#e5000f" stroke-width="2.3"/>
<rect x="1088.5" y="374.1" width="16.5" height="16.5" fill="none" stroke="#e5000f" stroke-width="2.3"/>
<rect x="1105.5" y="456.9" width="16.5" height="16.5" fill="none" stroke="#e5000f" stroke-width="2.3"/>
<rect x="1123.2" y="436.9" width="16.5" height="16.5" fill="none" stroke="#e5000f" stroke-width="2.3"/>
<rect x="1135.7" y="435.6" width="16.5" height="16.5" fill="none" stroke="#e5000f" stroke-width="2.3"/>
<rect x="1144.0" y="431.8" width="16.5" height="16.5" fill="none" stroke="#e5000f" stroke-width="2.3"/>
<rect x="1157.5" y="453.4" width="16.5" height="16.5" fill="none" stroke="#e5000f" stroke-width="2.3"/>
<rect x="1165.5" y="487.8" width="16.5" height="16.5" fill="none" stroke="#e5000f" stroke-width="2.3"/>
<rect x="1174.3" y="485.4" width="16.5" height="16.5" fill="none" stroke="#e5000f" stroke-width="2.3"/>
<rect x="1182.5" y="443.6" width="16.5" height="16.5" fill="none" stroke="#e5000f" stroke-width="2.3"/>
<rect x="1191.5" y="382.2" width="16.5" height="16.5" fill="none" stroke="#e5000f" stroke-width="2.3"/>
<path d="M822.3 161.5L832.2 178.5L812.4 178.5ZM816.7 176.0L827.9 176.0L822.3 166.5ZM822.3 164.0L832.2 181.0L812.4 181.0ZM816.7 178.5L827.9 178.5L822.3 169.0ZM921.0 338.6L930.9 355.6L911.1 355.6ZM915.4 353.1L926.6 353.1L921.0 343.6ZM921.0 355.7L930.9 372.7L911.1 372.7ZM915.4 370.2L926.6 370.2L921.0 360.7ZM963.9 346.4L973.8 363.4L954.0 363.4ZM958.3 360.9L969.5 360.9L963.9 351.4ZM963.9 358.7L973.8 375.7L954.0 375.7ZM958.3 373.2L969.5 373.2L963.9 363.7ZM1019.5 401.3L1029.4 418.3L1009.6 418.3ZM1013.9 415.8L1025.1 415.8L1019.5 406.3ZM1019.5 444.0L1029.4 461.0L1009.6 461.0ZM1013.9 458.5L1025.1 458.5L1019.5 449.0ZM1049.4 442.9L1059.3 459.9L1039.5 459.9ZM1043.8 457.4L1055.0 457.4L1049.4 447.9ZM1075.3 428.5L1085.2 445.5L1065.4 445.5ZM1069.7 443.0L1080.9 443.0L1075.3 433.5ZM1096.8 420.6L1106.7 437.6L1086.9 437.6ZM1091.2 435.1L1102.4 435.1L1096.8 425.6ZM1114.2 420.0L1124.1 437.0L1104.3 437.0ZM1108.6 434.5L1119.8 434.5L1114.2 425.0ZM1131.3 457.1L1141.2 474.1L1121.4 474.1ZM1125.7 471.6L1136.9 471.6L1131.3 462.1ZM1143.9 472.3L1153.8 489.3L1134.0 489.3ZM1138.3 486.8L1149.5 486.8L1143.9 477.3ZM1152.7 502.4L1162.6 519.4L1142.8 519.4ZM1147.1 516.9L1158.3 516.9L1152.7 507.4ZM1165.3 476.0L1175.2 493.0L1155.4 493.0ZM1159.7 490.5L1170.9 490.5L1165.3 481.0ZM1173.7 495.4L1183.6 512.4L1163.8 512.4ZM1168.1 509.9L1179.3 509.9L1173.7 500.4ZM1182.6 492.6L1192.5 509.6L1172.7 509.6ZM1177.0 507.1L1188.2 507.1L1182.6 497.6ZM1191.0 499.6L1200.9 516.6L1181.1 516.6ZM1185.4 514.1L1196.6 514.1L1191.0 504.6ZM1199.7 460.9L1209.6 477.9L1189.8 477.9ZM1194.1 475.4L1205.3 475.4L1199.7 465.9Z" fill="#0a45a0" fill-rule="nonzero"/>
<circle cx="835.8" cy="652.6" r="5.7" fill="#000"/>
<circle cx="835.8" cy="666.1" r="5.7" fill="#000"/>
<circle cx="897.7" cy="855.5" r="5.7" fill="#000"/>
<circle cx="933.4" cy="831.4" r="5.7" fill="#000"/>
<circle cx="933.4" cy="845.4" r="5.7" fill="#000"/>
<circle cx="959.4" cy="826" r="5.7" fill="#000"/>
<circle cx="959.4" cy="837.6" r="5.7" fill="#000"/>
<circle cx="985.1" cy="832.2" r="5.7" fill="#000"/>
<circle cx="1021.1" cy="945" r="5.7" fill="#000"/>
<circle cx="1046.8" cy="941.9" r="5.7" fill="#000"/>
<circle cx="1072.8" cy="942.4" r="5.7" fill="#000"/>
<circle cx="1088" cy="863.5" r="5.7" fill="#000"/>
<circle cx="1108.8" cy="844.9" r="5.7" fill="#000"/>
<circle cx="1124.4" cy="792.5" r="5.7" fill="#000"/>
<circle cx="1134.6" cy="801.8" r="5.7" fill="#000"/>
<circle cx="1149.8" cy="766.5" r="5.7" fill="#000"/>
<circle cx="1160.2" cy="792.5" r="5.7" fill="#000"/>
<circle cx="1170.6" cy="782.9" r="5.7" fill="#000"/>
<circle cx="1180.9" cy="714.9" r="5.7" fill="#000"/>
<circle cx="1191.3" cy="760.2" r="5.7" fill="#000"/>
<rect x="827.5" y="665.0" width="16.5" height="16.5" fill="none" stroke="#e5000f" stroke-width="2.3"/>
<rect x="827.5" y="702.6" width="16.5" height="16.5" fill="none" stroke="#e5000f" stroke-width="2.3"/>
<rect x="889.5" y="879.5" width="16.5" height="16.5" fill="none" stroke="#e5000f" stroke-width="2.3"/>
<rect x="889.4" y="915.8" width="16.5" height="16.5" fill="none" stroke="#e5000f" stroke-width="2.3"/>
<rect x="925.1" y="834.0" width="16.5" height="16.5" fill="none" stroke="#e5000f" stroke-width="2.3"/>
<rect x="925.2" y="888.5" width="16.5" height="16.5" fill="none" stroke="#e5000f" stroke-width="2.3"/>
<rect x="951.1" y="861.5" width="16.5" height="16.5" fill="none" stroke="#e5000f" stroke-width="2.3"/>
<rect x="951.1" y="865.1" width="16.5" height="16.5" fill="none" stroke="#e5000f" stroke-width="2.3"/>
<rect x="976.9" y="843.4" width="16.5" height="16.5" fill="none" stroke="#e5000f" stroke-width="2.3"/>
<rect x="976.9" y="854.2" width="16.5" height="16.5" fill="none" stroke="#e5000f" stroke-width="2.3"/>
<rect x="1012.9" y="979.1" width="16.5" height="16.5" fill="none" stroke="#e5000f" stroke-width="2.3"/>
<rect x="1038.5" y="995.1" width="16.5" height="16.5" fill="none" stroke="#e5000f" stroke-width="2.3"/>
<rect x="1064.5" y="993.4" width="16.5" height="16.5" fill="none" stroke="#e5000f" stroke-width="2.3"/>
<rect x="1079.8" y="924.9" width="16.5" height="16.5" fill="none" stroke="#e5000f" stroke-width="2.3"/>
<rect x="1100.8" y="921.4" width="16.5" height="16.5" fill="none" stroke="#e5000f" stroke-width="2.3"/>
<rect x="1115.8" y="882.5" width="16.5" height="16.5" fill="none" stroke="#e5000f" stroke-width="2.3"/>
<rect x="1126.0" y="892.6" width="16.5" height="16.5" fill="none" stroke="#e5000f" stroke-width="2.3"/>
<rect x="1141.5" y="833.9" width="16.5" height="16.5" fill="none" stroke="#e5000f" stroke-width="2.3"/>
<rect x="1151.7" y="865.0" width="16.5" height="16.5" fill="none" stroke="#e5000f" stroke-width="2.3"/>
<rect x="1162.3" y="916.8" width="16.5" height="16.5" fill="none" stroke="#e5000f" stroke-width="2.3"/>
<rect x="1172.7" y="724.0" width="16.5" height="16.5" fill="none" stroke="#e5000f" stroke-width="2.3"/>
<rect x="1182.7" y="791.9" width="16.5" height="16.5" fill="none" stroke="#e5000f" stroke-width="2.3"/>
<path d="M835.8 636.6L845.7 653.6L825.9 653.6ZM830.2 651.1L841.4 651.1L835.8 641.6ZM835.8 690.7L845.7 707.7L825.9 707.7ZM830.2 705.2L841.4 705.2L835.8 695.7ZM897.7 821.7L907.6 838.7L887.8 838.7ZM892.1 836.2L903.3 836.2L897.7 826.7ZM933.4 848.5L943.3 865.5L923.5 865.5ZM927.8 863.0L939.0 863.0L933.4 853.5ZM933.4 851.5L943.3 868.5L923.5 868.5ZM927.8 866.0L939.0 866.0L933.4 856.5ZM959.6 893.0L969.5 910.0L949.7 910.0ZM954.0 907.5L965.2 907.5L959.6 898.0ZM959.6 896.0L969.5 913.0L949.7 913.0ZM954.0 910.5L965.2 910.5L959.6 901.0ZM985.2 894.5L995.1 911.5L975.3 911.5ZM979.6 909.0L990.8 909.0L985.2 899.5ZM985.2 898.5L995.1 915.5L975.3 915.5ZM979.6 913.0L990.8 913.0L985.2 903.5ZM1021.1 1015.2L1031.0 1032.2L1011.2 1032.2ZM1015.5 1029.7L1026.7 1029.7L1021.1 1020.2ZM1046.8 1029.9L1056.7 1046.9L1036.9 1046.9ZM1041.2 1044.4L1052.4 1044.4L1046.8 1034.9ZM1072.8 1039.5L1082.7 1056.5L1062.9 1056.5ZM1067.2 1054.0L1078.4 1054.0L1072.8 1044.5ZM1088.2 978.6L1098.1 995.6L1078.3 995.6ZM1082.6 993.1L1093.8 993.1L1088.2 983.6ZM1124.4 887.5L1134.3 904.5L1114.5 904.5ZM1118.8 902.0L1130.0 902.0L1124.4 892.5ZM1134.2 893.9L1144.1 910.9L1124.3 910.9ZM1128.6 908.4L1139.8 908.4L1134.2 898.9ZM1149.8 870.7L1159.7 887.7L1139.9 887.7ZM1144.2 885.2L1155.4 885.2L1149.8 875.7ZM1160.2 905.3L1170.1 922.3L1150.3 922.3ZM1154.6 919.8L1165.8 919.8L1160.2 910.3ZM1170.6 879.2L1180.5 896.2L1160.7 896.2ZM1165.0 893.7L1176.2 893.7L1170.6 884.2ZM1180.9 841.1L1190.8 858.1L1171.0 858.1ZM1175.3 855.6L1186.5 855.6L1180.9 846.1ZM1191.3 856.9L1201.2 873.9L1181.4 873.9ZM1185.7 871.4L1196.9 871.4L1191.3 861.9ZM1108.8 963.0L1118.7 980.0L1098.9 980.0ZM1103.2 977.5L1114.4 977.5L1108.8 968.0Z" fill="#0a45a0" fill-rule="nonzero"/>
<circle cx="863.9" cy="1574.4" r="5.7" fill="#000"/>
<circle cx="863.9" cy="1587.2" r="5.7" fill="#000"/>
<circle cx="945.5" cy="1522.3" r="5.7" fill="#000"/>
<circle cx="992.8" cy="1499.5" r="5.7" fill="#000"/>
<circle cx="992.8" cy="1506.8" r="5.7" fill="#000"/>
<circle cx="1026.6" cy="1492.2" r="5.7" fill="#000"/>
<circle cx="1053" cy="1464.5" r="5.7" fill="#000"/>
<circle cx="1075.4" cy="1496" r="5.7" fill="#000"/>
<circle cx="1093.9" cy="1469.7" r="5.7" fill="#000"/>
<circle cx="1093.9" cy="1481.6" r="5.7" fill="#000"/>
<circle cx="1111" cy="1485.4" r="5.7" fill="#000"/>
<circle cx="1125.8" cy="1455.3" r="5.7" fill="#000"/>
<circle cx="1125.8" cy="1462.3" r="5.7" fill="#000"/>
<circle cx="1152" cy="1471.1" r="5.7" fill="#000"/>
<circle cx="1174.1" cy="1475.3" r="5.7" fill="#000"/>
<circle cx="1174.1" cy="1480.2" r="5.7" fill="#000"/>
<circle cx="1193.3" cy="1480.5" r="5.7" fill="#000"/>
<rect x="855.6" y="1190.8" width="16.5" height="16.5" fill="none" stroke="#e5000f" stroke-width="2.3"/>
<rect x="855.6" y="1336.0" width="16.5" height="16.5" fill="none" stroke="#e5000f" stroke-width="2.3"/>
<rect x="937.5" y="1444.2" width="16.5" height="16.5" fill="none" stroke="#e5000f" stroke-width="2.3"/>
<rect x="984.5" y="1452.2" width="16.5" height="16.5" fill="none" stroke="#e5000f" stroke-width="2.3"/>
<rect x="984.5" y="1524.3" width="16.5" height="16.5" fill="none" stroke="#e5000f" stroke-width="2.3"/>
<rect x="1018.5" y="1485.0" width="16.5" height="16.5" fill="none" stroke="#e5000f" stroke-width="2.3"/>
<rect x="1044.8" y="1455.8" width="16.5" height="16.5" fill="none" stroke="#e5000f" stroke-width="2.3"/>
<rect x="1044.8" y="1506.0" width="16.5" height="16.5" fill="none" stroke="#e5000f" stroke-width="2.3"/>
<rect x="1067.2" y="1519.0" width="16.5" height="16.5" fill="none" stroke="#e5000f" stroke-width="2.3"/>
<rect x="1085.3" y="1471.7" width="16.5" height="16.5" fill="none" stroke="#e5000f" stroke-width="2.3"/>
<rect x="1085.3" y="1488.8" width="16.5" height="16.5" fill="none" stroke="#e5000f" stroke-width="2.3"/>
<rect x="1102.5" y="1513.2" width="16.5" height="16.5" fill="none" stroke="#e5000f" stroke-width="2.3"/>
<rect x="1117.5" y="1430.7" width="16.5" height="16.5" fill="none" stroke="#e5000f" stroke-width="2.3"/>
<rect x="1117.5" y="1503.5" width="16.5" height="16.5" fill="none" stroke="#e5000f" stroke-width="2.3"/>
<rect x="1143.8" y="1501.2" width="16.5" height="16.5" fill="none" stroke="#e5000f" stroke-width="2.3"/>
<rect x="1165.8" y="1494.3" width="16.5" height="16.5" fill="none" stroke="#e5000f" stroke-width="2.3"/>
<rect x="1165.8" y="1502.2" width="16.5" height="16.5" fill="none" stroke="#e5000f" stroke-width="2.3"/>
<rect x="1185.2" y="1477.2" width="16.5" height="16.5" fill="none" stroke="#e5000f" stroke-width="2.3"/>
<circle cx="787.3" cy="2005.8" r="5.7" fill="#000"/>
<circle cx="917" cy="2088.7" r="5.7" fill="#000"/>
<circle cx="974.7" cy="2089.3" r="5.7" fill="#000"/>
<circle cx="1013.1" cy="2088.3" r="5.7" fill="#000"/>
<circle cx="1013.1" cy="2093.4" r="5.7" fill="#000"/>
<circle cx="1065.6" cy="2113" r="5.7" fill="#000"/>
<circle cx="1065.6" cy="2117" r="5.7" fill="#000"/>
<circle cx="1085.9" cy="2090.3" r="5.7" fill="#000"/>
<circle cx="1103.7" cy="2096.4" r="5.7" fill="#000"/>
<circle cx="1103.7" cy="2113.6" r="5.7" fill="#000"/>
<circle cx="1119.4" cy="2108.9" r="5.7" fill="#000"/>
<circle cx="1146.5" cy="2101.9" r="5.7" fill="#000"/>
<circle cx="1146.5" cy="2118.6" r="5.7" fill="#000"/>
<circle cx="1169.4" cy="2104.1" r="5.7" fill="#000"/>
<circle cx="1189" cy="2105.5" r="5.7" fill="#000"/>
<circle cx="1189" cy="2114.6" r="5.7" fill="#000"/>
<rect x="779.4" y="1727.5" width="16.5" height="16.5" fill="none" stroke="#e5000f" stroke-width="2.3"/>
<rect x="909.0" y="2081.3" width="16.5" height="16.5" fill="none" stroke="#e5000f" stroke-width="2.3"/>
<rect x="909.0" y="2095.9" width="16.5" height="16.5" fill="none" stroke="#e5000f" stroke-width="2.3"/>
<rect x="966.5" y="2067.2" width="16.5" height="16.5" fill="none" stroke="#e5000f" stroke-width="2.3"/>
<rect x="1004.9" y="2086.2" width="16.5" height="16.5" fill="none" stroke="#e5000f" stroke-width="2.3"/>
<rect x="1004.9" y="2098.1" width="16.5" height="16.5" fill="none" stroke="#e5000f" stroke-width="2.3"/>
<rect x="1034.0" y="2119.7" width="16.5" height="16.5" fill="none" stroke="#e5000f" stroke-width="2.3"/>
<rect x="1057.3" y="2128.9" width="16.5" height="16.5" fill="none" stroke="#e5000f" stroke-width="2.3"/>
<rect x="1078.2" y="2133.2" width="16.5" height="16.5" fill="none" stroke="#e5000f" stroke-width="2.3"/>
<rect x="1095.5" y="2132.1" width="16.5" height="16.5" fill="none" stroke="#e5000f" stroke-width="2.3"/>
<rect x="1095.5" y="2145.8" width="16.5" height="16.5" fill="none" stroke="#e5000f" stroke-width="2.3"/>
<rect x="1111.0" y="2124.8" width="16.5" height="16.5" fill="none" stroke="#e5000f" stroke-width="2.3"/>
<rect x="1138.7" y="2125.9" width="16.5" height="16.5" fill="none" stroke="#e5000f" stroke-width="2.3"/>
<rect x="1138.7" y="2143.3" width="16.5" height="16.5" fill="none" stroke="#e5000f" stroke-width="2.3"/>
<rect x="1161.2" y="2109.8" width="16.5" height="16.5" fill="none" stroke="#e5000f" stroke-width="2.3"/>
<rect x="1180.8" y="2129.2" width="16.5" height="16.5" fill="none" stroke="#e5000f" stroke-width="2.3"/>
<rect x="1180.8" y="2134.8" width="16.5" height="16.5" fill="none" stroke="#e5000f" stroke-width="2.3"/>
</svg></body></html>
